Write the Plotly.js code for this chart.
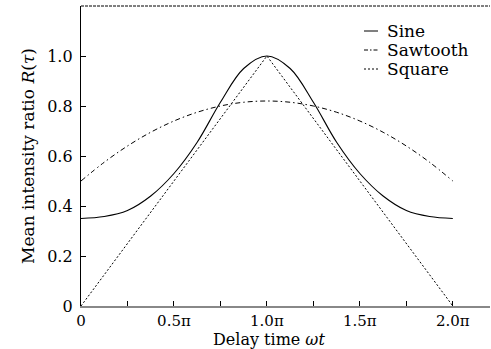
<!DOCTYPE html>
<html>
<head>
<meta charset="utf-8">
<script src="https://cdn.plot.ly/plotly-3.0.1.min.js"></script>
<style>html,body{margin:0;padding:0;background:#fff;overflow:hidden;}#chart{width:491px;height:349px;}</style>
</head>
<body>
<div id="chart"></div>
<script>
// x values in units of pi
const sineX = [0, 0.125, 0.25, 0.375, 0.5, 0.625, 0.75, 0.875, 1.0, 1.125, 1.25, 1.375, 1.5, 1.625, 1.75, 1.875, 2.0];
const sineY = [0.35, 0.358, 0.382, 0.44, 0.53, 0.655, 0.815, 0.95, 1.0, 0.95, 0.815, 0.655, 0.53, 0.44, 0.382, 0.358, 0.35];
const sawX = [0, 0.125, 0.25, 0.375, 0.5, 0.625, 0.75, 0.875, 1.0, 1.125, 1.25, 1.375, 1.5, 1.625, 1.75, 1.875, 2.0];
const sawY = [0.50, 0.575, 0.64, 0.695, 0.74, 0.775, 0.80, 0.815, 0.82, 0.815, 0.80, 0.775, 0.74, 0.695, 0.64, 0.575, 0.50];
const sqX = [0, 1.0, 2.0];
const sqY = [0, 1.0, 0];
const seriesNames = ['Sine', 'Sawtooth', 'Square'];
const xTickVals = [0, 0.5, 1.0, 1.5, 2.0];
const xTickText = ['0', '0.5π', '1.0π', '1.5π', '2.0π'];
const yTickVals = [0, 0.2, 0.4, 0.6, 0.8, 1.0];
const yTickText = ['0', '0.2', '0.4', '0.6', '0.8', '1.0'];
const xTitle = 'Delay time <i>ωt</i>';
const yTitle = 'Mean intensity ratio <i>R</i>(<i>τ</i>)';

const font = 'DejaVu Serif, Liberation Serif, serif';
const FS = 16;
const dashes = ['solid', '5px,3px,1.5px,3px', '2px,2px'];
const traces = [
  {x: sineX, y: sineY, name: seriesNames[0], mode: 'lines', line: {color: '#000', width: 1.1, dash: dashes[0], shape: 'spline', smoothing: 1}},
  {x: sawX, y: sawY, name: seriesNames[1], mode: 'lines', line: {color: '#000', width: 1, dash: dashes[1], shape: 'spline'}},
  {x: sqX, y: sqY, name: seriesNames[2], mode: 'lines', line: {color: '#000', width: 1, dash: dashes[2]}}
];

// legend drawn manually (short sample lines + text)
const W = 491 - 81 - 1, H = 349 - 6 - 43;
const px2x = p => (p - 81) / W;
const px2y = p => (306 - p) / H;
const legRows = [31, 50, 69];
const shapes = [{type: 'line', xref: 'paper', yref: 'paper', x0: 0, x1: 1, y0: 1, y1: 1, line: {color: '#000', width: 1, dash: '3px,1px'}}];
const annotations = [];
seriesNames.forEach((n, i) => {
  shapes.push({type: 'line', xref: 'paper', yref: 'paper', x0: px2x(364), x1: px2x(378), y0: px2y(legRows[i]), y1: px2y(legRows[i]),
    line: {color: '#000', width: 1, dash: i === 1 ? '4px,2px,1.5px,2px' : dashes[i]}});
  annotations.push({xref: 'paper', yref: 'paper', x: px2x(385), y: px2y(legRows[i]), xanchor: 'left', yanchor: 'middle',
    text: n, showarrow: false, font: {family: font, size: 17, color: '#000'}});
});
// x-axis title placed as an annotation so it sits clear of the tick labels
annotations.push({xref: 'paper', yref: 'paper', x: px2x(269), y: px2y(339), xanchor: 'center', yanchor: 'middle',
  text: xTitle, showarrow: false, font: {family: font, size: FS, color: '#000'}});

const layout = {
  width: 491, height: 349,
  margin: {l: 81, r: 1, t: 6, b: 43},
  paper_bgcolor: '#fff', plot_bgcolor: '#fff',
  font: {family: font, size: FS, color: '#000'},
  showlegend: false,
  xaxis: {range: [0, 2.2], tickvals: xTickVals, ticktext: xTickText, ticks: 'inside', ticklen: 5, tickcolor: '#000',
    showline: true, linecolor: '#888', linewidth: 2, showgrid: false, zeroline: false,
    minor: {dtick: 0.25, tick0: 0, ticks: 'inside', ticklen: 5, tickcolor: '#000', showgrid: false},
    ticklabelstandoff: 0, tickfont: {family: font, size: 15}},
  xaxis2: {range: [0, 2.2], overlaying: 'x', anchor: 'y', side: 'top', showticklabels: false, ticks: 'inside', ticklen: 4,
    tickvals: [0.25, 0.5, 0.75, 1.0, 1.25, 1.5, 1.75, 2.0], showline: false, showgrid: false, zeroline: false, tickcolor: '#000'},
  yaxis: {range: [0, 1.2], tickvals: yTickVals, ticktext: yTickText, ticks: 'inside', ticklen: 5, tickcolor: '#000',
    showline: true, linecolor: '#000', linewidth: 1.2, showgrid: false, zeroline: false, ticklabelstandoff: 4,
    title: {text: yTitle, font: {family: font, size: 17}, standoff: 8}},
  shapes: shapes,
  annotations: annotations
};
Plotly.newPlot('chart', traces, layout, {staticPlot: true});
</script>
</body>
</html>
